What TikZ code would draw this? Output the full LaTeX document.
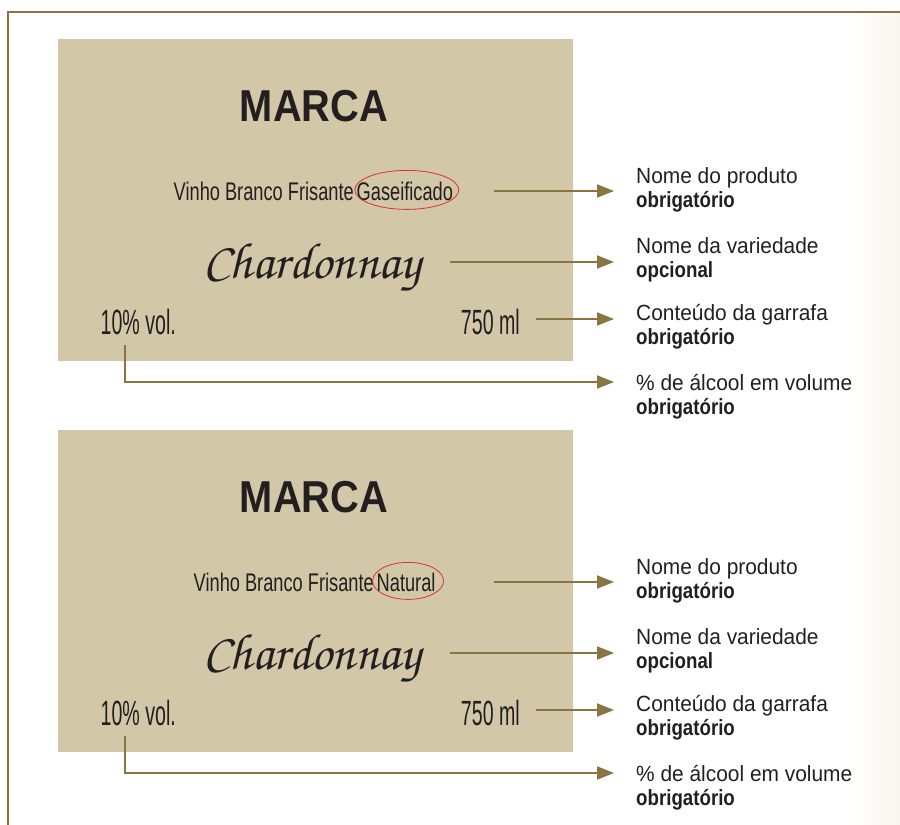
\documentclass[tikz,border=0pt]{standalone}
\usepackage{fontspec}
\setmainfont{Liberation Sans}
\newfontfamily\brandfont[FakeStretch=0.89]{Liberation Sans}
\newfontfamily\kindfont[FakeStretch=0.715]{Liberation Sans}
\newfontfamily\figfont[FakeStretch=0.56]{Liberation Sans}
\newfontfamily\notefont[FakeStretch=0.95]{Liberation Sans}
\newfontfamily\needfont[FakeStretch=0.85]{Liberation Sans}
\newcommand{\grapefont}{\usefont{T1}{pzc}{mb}{it}}
\usepackage{tikz}
\usetikzlibrary{arrows.meta}

\definecolor{frame}{HTML}{8A7442}
\definecolor{paper}{HTML}{D2C7A6}
\definecolor{ink}{HTML}{231F20}
\definecolor{loopred}{HTML}{D9303A}
\definecolor{cream}{HTML}{F8F6EE}

\begin{document}
\begin{tikzpicture}[x=1pt,y=-1pt,
    card/.style={fill=paper,minimum width=515pt,minimum height=322pt,inner sep=0pt},
    brand/.style={font=\brandfont\bfseries\fontsize{44.7}{50}\selectfont},
    kind/.style={font=\kindfont\fontsize{25.5}{28}\selectfont},
    grape/.style={font=\grapefont\fontsize{51}{56}\selectfont},
    figure/.style={font=\figfont\fontsize{35}{40}\selectfont},
    note/.style={font=\notefont\fontsize{22}{24}\selectfont,anchor=base west},
    need/.style={font=\needfont\bfseries\fontsize{22}{24}\selectfont,anchor=base west},
    lead/.style={draw=frame,line width=2pt,-{Triangle[length=17pt,width=13pt]}},
    ring/.style={draw=loopred,line width=0.8pt}]

    \useasboundingbox (0,0) rectangle (900,825);
    \shade[left color=white,right color=cream] (850,12) rectangle (900,825);
    \draw[frame,line width=2pt] (900,12) -- (8,12) -- (8,825);

    \foreach \n/\dy/\kx/\word/\rx/\ry in {a/0/354/Gaseificado/52/19.5,
                                         b/391/374/Natural/35.5/18.5} {
    \begin{scope}[yshift=-\dy pt]
        \node[card] (card\n) at (315.5,200) {};
        \coordinate (tip\n) at (614,0);

        \begin{scope}[every node/.append style={inner sep=0pt,text=ink}]
            \node[brand,anchor=base] (marca\n) at (314,121) {MARCA};
            \node[kind,anchor=base east] (kind\n) at (\kx,200) {Vinho Branco Frisante};
            \node[kind,anchor=base west] (word\n) at ([xshift=2.5pt]kind\n.base east) {\word};
            \node[grape,anchor=base] (grape\n) at (312,278) {Chardonnay};
            \node[figure,anchor=base west] (vol\n) at (100.5,334) {10\% vol.};
            \node[figure,anchor=base east] (size\n) at (520,334) {750 ml};

            \node[note] (prod\n) at (636,183) {Nome do produto};
            \node[need] (prodneed\n) at ([yshift=-24pt]prod\n.base west) {obrigatório};
            \node[note] (vari\n) at (636,253) {Nome da variedade};
            \node[need] (varineed\n) at ([yshift=-24pt]vari\n.base west) {opcional};
            \node[note] (cont\n) at (636,320) {Conteúdo da garrafa};
            \node[need] (contneed\n) at ([yshift=-24pt]cont\n.base west) {obrigatório};
            \node[note] (alc\n) at (636,390) {\% de álcool em volume};
            \node[need] (alcneed\n) at ([yshift=-24pt]alc\n.base west) {obrigatório};
        \end{scope}

        \draw[ring] ([xshift=2pt,yshift=1pt]word\n.center) ellipse [x radius=\rx pt,y radius=\ry pt];

        \draw[lead] ([xshift=-79pt,yshift=9pt]card\n.east |- word\n.base) -- ([yshift=9pt]tip\n |- word\n.base);
        \draw[lead] ([xshift=29pt,yshift=16pt]grape\n.base east) -- ([yshift=16pt]tip\n |- grape\n.base);
        \draw[lead] ([xshift=16pt,yshift=15pt]size\n.base east) -- ([yshift=15pt]tip\n |- size\n.base);
        \draw[lead] ([xshift=24.5pt,yshift=-11pt]vol\n.base west) |- ([yshift=-48pt]tip\n |- vol\n.base);
    \end{scope}
    }
\end{tikzpicture}
\end{document}
